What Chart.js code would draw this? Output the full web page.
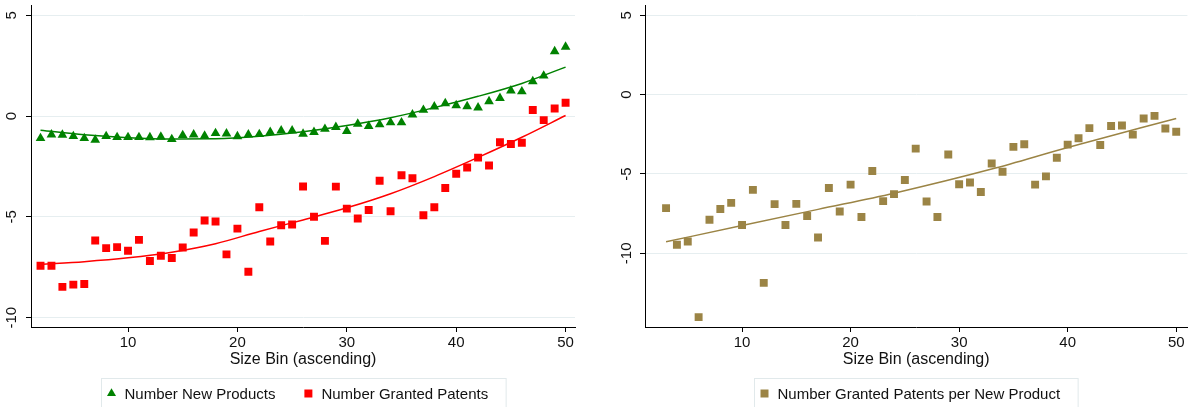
<!DOCTYPE html>
<html>
<head>
<meta charset="utf-8">
<title>Products and patents by size bin</title>
<style>
  html, body { margin: 0; padding: 0; background: #ffffff; }
  #wrap { position: relative; width: 1193px; height: 407px; overflow: hidden; }
  canvas { position: absolute; top: 0; }
  #leftPanel { left: 0; }
  #rightPanel { left: 596px; }
</style>
<script src="https://cdn.jsdelivr.net/npm/chart.js@4.4.1/dist/chart.umd.min.js"></script>
</head>
<body>
<div id="wrap">
  <canvas id="leftPanel" width="596" height="407"></canvas>
  <canvas id="rightPanel" width="597" height="407"></canvas>
</div>
<script>
// ---- data -------------------------------------------------------------
const leftBins = [2, 3, 4, 5, 6, 7, 8, 9, 10, 11, 12, 13, 14, 15, 16, 17, 18, 19, 20, 21, 22, 23, 24, 25,
                  26, 27, 28, 29, 30, 31, 32, 33, 34, 35, 36, 37, 38, 39, 40, 41, 42, 43, 44, 45, 46, 47, 48, 49, 50];

const newProducts = [-1.10, -0.92, -0.93, -1.00, -1.10, -1.18, -1.00, -1.05, -1.05, -1.05, -1.06, -1.03,
                     -1.15, -0.95, -0.92, -0.98, -0.85, -0.87, -1.01, -0.92, -0.90, -0.80, -0.72, -0.72,
                     -0.88, -0.80, -0.64, -0.55, -0.75, -0.39, -0.50, -0.42, -0.32, -0.32, 0.07, 0.30,
                     0.47, 0.63, 0.53, 0.48, 0.42, 0.73, 0.89, 1.26, 1.22, 1.72, 2.00, 3.21, 3.43];

const grantedPatents = [-7.42, -7.42, -8.47, -8.36, -8.33, -6.17, -6.55, -6.50, -6.68, -6.14, -7.19, -6.93,
                        -7.04, -6.52, -5.77, -5.18, -5.23, -6.86, -5.58, -7.72, -4.52, -6.22, -5.41, -5.38,
                        -3.49, -4.99, -6.19, -3.50, -4.59, -5.08, -4.66, -3.21, -4.72, -2.93, -3.08, -4.92,
                        -4.52, -3.57, -2.86, -2.55, -2.06, -2.45, -1.30, -1.38, -1.32, 0.30, -0.20, 0.38, 0.66];

// fitted curves, read at a handful of bins
const leftFitBins = [2, 6, 10, 14, 18, 22, 26, 30, 34, 38, 42, 46, 50];
const newProductsFit = [-0.70, -0.93, -1.07, -1.13, -1.12, -1.00, -0.78, -0.47, -0.08, 0.42, 0.98, 1.62, 2.43];
const grantedPatentsFit = [-7.35, -7.22, -7.03, -6.75, -6.33, -5.72, -5.15, -4.55, -3.85, -3.00, -2.05, -1.05, 0.03];

const rightBins = [3, 4, 5, 6, 7, 8, 9, 10, 11, 12, 13, 14, 15, 16, 17, 18, 19, 20, 21, 22, 23, 24, 25, 26,
                   27, 28, 29, 30, 31, 32, 33, 34, 35, 36, 37, 38, 39, 40, 41, 42, 43, 44, 45, 46, 47, 48, 49, 50];

const patentsPerProduct = [-7.15, -9.46, -9.25, -14.02, -7.88, -7.21, -6.82, -8.21, -6.00, -11.86, -6.90, -8.21,
                           -6.88, -7.65, -9.00, -5.88, -7.36, -5.67, -7.71, -4.81, -6.71, -6.27, -5.38, -3.40,
                           -6.73, -7.71, -3.77, -5.65, -5.54, -6.13, -4.34, -4.86, -3.29, -3.13, -5.67, -5.15,
                           -3.98, -3.15, -2.75, -2.11, -3.17, -1.98, -1.94, -2.52, -1.50, -1.34, -2.13, -2.34];

const rightFitBins = [3, 10, 17, 24, 33, 40, 50];
const patentsPerProductFit = [-9.27, -8.25, -7.23, -6.21, -4.69, -3.33, -1.50];

const xTicks = [10, 20, 30, 40, 50];
const yTicks = [-10, -5, 0, 5];
const xTitle = 'Size Bin (ascending)';

// ---- styling ----------------------------------------------------------
const FONT = '"Liberation Sans", Arial, Helvetica, sans-serif';
const GREEN = '#008200';
const RED = '#ff0000';
const SAND = '#9b8445';
const TEXT = '#111111';
const GRID = '#e6eef0';

function points(xs, ys) {
  return xs.map((x, i) => ({ x: x, y: ys[i] }));
}

function markerSet(label, xs, ys, color, style, radius) {
  return {
    label: label,
    data: points(xs, ys),
    pointStyle: style,
    pointRadius: radius,
    pointHoverRadius: radius,
    pointBackgroundColor: color,
    pointBorderWidth: 0,
    borderWidth: 0,
    showLine: false,
    legendEntry: true,
    markerColor: color
  };
}

function fitLine(xs, ys, color) {
  return {
    label: '',
    data: points(xs, ys),
    showLine: true,
    borderColor: color,
    borderWidth: 1.5,
    pointRadius: 0,
    pointHoverRadius: 0,
    cubicInterpolationMode: 'monotone',
    fill: false,
    legendEntry: false
  };
}

// Stata-style legend: a light framed box centred under the plot area
const boxLegend = {
  id: 'boxLegend',
  afterDraw(chart) {
    const ctx = chart.ctx;
    const area = chart.chartArea;
    const entries = chart.data.datasets.filter(d => d.legendEntry);
    const markerToText = 13, itemGap = 33, padLeft = 10, padRight = 18;
    ctx.save();
    ctx.font = '15px ' + FONT;
    let total = padLeft;
    const widths = entries.map(d => ctx.measureText(d.label).width);
    widths.forEach((w, i) => {
      total += markerToText + w + (i < widths.length - 1 ? itemGap : 0);
    });
    total += padRight;
    const left = Math.round((area.left + area.right) / 2 - total / 2) + 0.5;
    const top = 378.5;
    ctx.fillStyle = '#ffffff';
    ctx.strokeStyle = '#e1e9eb';
    ctx.lineWidth = 1;
    ctx.fillRect(left, top, total, 40);
    ctx.strokeRect(left, top, total, 40);

    let x = left + padLeft;
    const cy = 393.5;
    entries.forEach((d, i) => {
      ctx.fillStyle = d.markerColor;
      ctx.beginPath();
      if (d.pointStyle === 'triangle') {
        const r = 5.2;
        ctx.moveTo(x, cy - r);
        ctx.lineTo(x + r * 0.866, cy + r * 0.5);
        ctx.lineTo(x - r * 0.866, cy + r * 0.5);
        ctx.closePath();
      } else {
        ctx.rect(x - 4, cy - 4, 8, 8);
      }
      ctx.fill();
      ctx.fillStyle = TEXT;
      ctx.textBaseline = 'alphabetic';
      ctx.textAlign = 'left';
      ctx.fillText(d.label, x + markerToText, 399);
      x += markerToText + widths[i] + itemGap;
    });
    ctx.restore();
  }
};

function makePanel(canvas, datasets, cfg) {
  return new Chart(canvas, {
    type: 'scatter',
    data: { datasets: datasets },
    options: {
      responsive: false,
      devicePixelRatio: 1,
      animation: false,
      events: [],
      layout: { padding: { top: 4, right: cfg.padRight, bottom: 0, left: 0 } },
      plugins: {
        legend: { display: false },
        tooltip: { enabled: false },
        title: { display: false }
      },
      scales: {
        x: {
          type: 'linear',
          position: 'bottom',
          min: cfg.xMin,
          max: cfg.xMax,
          afterBuildTicks: s => { s.ticks = xTicks.map(v => ({ value: v })); },
          afterFit: s => { s.height = 80; s.paddingLeft = 0; s.paddingRight = 0; },
          grid: {
            display: true,
            drawOnChartArea: false,
            drawTicks: true,
            tickLength: 5,
            tickColor: '#000000',
            tickWidth: 1
          },
          border: { display: true, color: '#000000', width: 1 },
          ticks: {
            font: { family: FONT, size: 15 },
            color: TEXT,
            padding: 2,
            maxRotation: 0,
            autoSkip: false
          },
          title: {
            display: true,
            text: xTitle,
            font: { family: FONT, size: 16 },
            color: TEXT,
            padding: { top: 0, bottom: 38 }
          }
        },
        y: {
          type: 'linear',
          position: 'left',
          min: cfg.yMin,
          max: cfg.yMax,
          afterBuildTicks: s => { s.ticks = yTicks.map(v => ({ value: v })); },
          afterFit: s => { s.width = cfg.yWidth; s.paddingTop = 0; s.paddingBottom = 0; },
          grid: {
            color: GRID,
            lineWidth: 1,
            drawTicks: true,
            tickLength: 5,
            tickColor: '#000000',
            tickWidth: 1
          },
          border: { display: true, color: '#000000', width: 1 },
          ticks: {
            font: { family: FONT, size: 15 },
            color: TEXT,
            padding: cfg.yLabelPad,
            minRotation: 90,
            maxRotation: 90,
            crossAlign: 'center',
            autoSkip: false
          }
        }
      }
    },
    plugins: [boxLegend]
  });
}

makePanel(document.getElementById('leftPanel'), [
  markerSet('Number New Products', leftBins, newProducts, GREEN, 'triangle', 5.6),
  markerSet('Number Granted Patents', leftBins, grantedPatents, RED, 'rect', 5.6),
  fitLine(leftFitBins, newProductsFit, GREEN),
  fitLine(leftFitBins, grantedPatentsFit, RED)
], { xMin: 1.13, xMax: 50.86, yMin: -10.46, yMax: 5.48, yWidth: 31, padRight: 21, yLabelPad: 3 });

makePanel(document.getElementById('rightPanel'), [
  markerSet('Number Granted Patents per New Product', rightBins, patentsPerProduct, SAND, 'rect', 5.6),
  fitLine(rightFitBins, patentsPerProductFit, SAND)
], { xMin: 1.06, xMax: 51.03, yMin: -14.64, yMax: 5.61, yWidth: 49, padRight: 2, yLabelPad: 2 });
</script>
</body>
</html>
